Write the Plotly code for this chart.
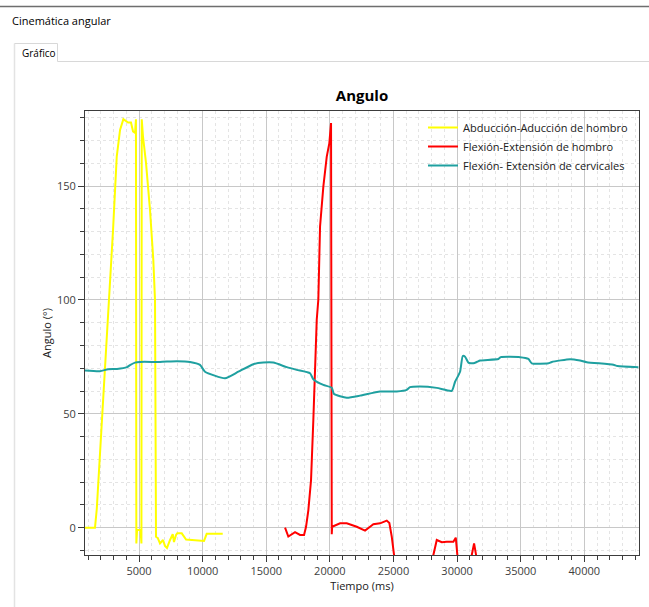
import plotly.graph_objects as go

# ---------------- data ----------------
t_abd = [755, 1540, 1680, 1930, 2330, 2650, 2960, 3250, 3510, 3770, 3900, 4140, 4370,
         4530, 4690, 4760, 4790, 4850, 5120, 5190, 5215, 5314, 5550, 5865, 6124, 6258,
         6336, 6470, 6650, 6890, 7040, 7200, 7440, 7650, 7750, 7910, 8010, 8360, 8700,
         9400, 9540, 9800, 10110, 10320, 11580]
abd = [0, 0, 8.2, 31.2, 70.7, 100.2, 130.8, 163, 174.7, 179.4, 178.9, 177.9, 177.9,
       174, 173.4, 179.4, -6.9, -1, -1, -6.9, 179.4, 171.8, 160.2, 139.6, 117.6, 100,
       -4, -4.5, -6.9, -5.4, -8.0, -8.9, -5.4, -2.8, -6.3, -3.2, -2.5, -2.5, -5.2,
       -5.4, -5.4, -5.8, -5.8, -2.7, -2.7]

t_flex = [16478, 16737, 17264, 17657, 17972, 18129, 18310, 18522, 18703, 18970, 19096,
          19230, 19489, 19757, 19961, 20094, 20150, 20180, 20802, 21329, 22115, 22767,
          23160, 23420, 23947, 24473, 24678, 24866, 25047, 25250, 27900, 28137, 28404,
          28797, 29190, 29709, 29898, 30024, 30200, 30950, 31156, 31337, 31494, 31650]
flex = [0, -3.9, -2, -3.2, -3.2, 0.4, 7.6, 20.9, 47.3, 91.3, 100.2,
        132.3, 149.8, 163, 168.9, 177.7, -2.9, 0.4, 1.9, 1.9, 0.4, -1.3,
        0.4, 1.5, 1.9, 3.1, 2, -3.9, -12, -30, -30, -12, -5.4,
        -6.4, -6.2, -6.2, -4.4, -12, -30, -30, -12, -6.9, -12, -30]

t_cerv = [755, 1934, 2563, 3270, 4057, 4292, 4686, 5079, 6651, 7987, 9009, 9796, 10189,
          11761, 12807, 13986, 14772, 15558, 16612, 17398, 18443, 18703, 19489, 20150,
          20330, 21329, 22374, 23947, 25259, 26046, 26305, 27091, 28404, 29583, 29843,
          30236, 30448, 30629, 30888, 31282, 31596, 31808, 33247, 33436, 34953, 35607,
          35874, 37179, 37446, 38884, 39670, 40197, 42288, 42603, 44254]
cerv = [69.0, 68.7, 69.6, 69.7, 70.5, 71.4, 72.5, 72.8, 72.8, 73.1, 72.8, 71.5, 68.5,
        65.6, 68.5, 71.8, 72.5, 72.5, 70.5, 69.3, 67.8, 65.2, 62.7, 61.5,
        58.7, 57.1, 58.0, 59.8, 59.8, 60.5, 61.7, 62.0, 61.4, 60.1, 64.1,
        68.5, 75.4, 75.1, 72.5, 72.2, 72.9, 73.4, 74.1, 74.9, 74.9, 74.1,
        72.2, 72.2, 72.8, 74.0, 73.4, 72.7, 71.6, 71.0, 70.5]

names = ["Abducción-Aducción de hombro", "Flexión-Extensión de hombro",
         "Flexión- Extensión de cervicales"]
colors = ["#FFFF00", "#FF0000", "#1FA0A0"]

x_range = [755, 44300]
y_range = [-12, 183]

# ---------------- figure ----------------
W, H = 649, 607
L, R, T, B = 85, 10, 111, 52
pw, ph = W - L - R, H - T - B


def px(x):
    return (x - L) / pw


def py(y):
    return (H - B - y) / ph


fig = go.Figure()
fig.add_trace(go.Scatter(x=t_abd, y=abd, mode="lines", name=names[0],
                         line=dict(color=colors[0], width=2)))
fig.add_trace(go.Scatter(x=t_flex, y=flex, mode="lines", name=names[1],
                         line=dict(color=colors[1], width=2)))
fig.add_trace(go.Scatter(x=t_cerv, y=cerv, mode="lines", name=names[2],
                         line=dict(color=colors[2], width=2, shape="spline", smoothing=0.5)))

font_family = "Open Sans, Noto Sans, sans-serif"

axis_common = dict(
    showline=True, linecolor="#3c3c3c", linewidth=1, mirror=True,
    ticks="outside", ticklen=6, tickcolor="#3c3c3c",
    showgrid=True, gridcolor="#c8c8c8", gridwidth=1,
    zeroline=False, tickformat="d",
    tickfont=dict(family=font_family, size=11, color="#404040"),
)

fig.update_xaxes(
    range=x_range, tick0=0, dtick=5000,
    minor=dict(dtick=1000, ticks="outside", ticklen=4, tickcolor="#3c3c3c",
               showgrid=True, gridcolor="#e4e4e4", griddash="dot"),
    title=dict(text="Tiempo (ms)", standoff=4,
               font=dict(family=font_family, size=11, color="#202020")),
    **axis_common,
)
fig.update_yaxes(
    range=y_range, tick0=0, dtick=50,
    minor=dict(dtick=10, ticks="outside", ticklen=4, tickcolor="#3c3c3c",
               showgrid=True, gridcolor="#e4e4e4", griddash="dot"),
    title=dict(text="Angulo (°)", standoff=3,
               font=dict(family=font_family, size=11, color="#202020")),
    **axis_common,
)

# window / tab decorations
line_grey = "#d8d8d8"
shapes = [
    dict(type="line", xref="paper", yref="paper", x0=px(0), x1=px(W), y0=py(6.5), y1=py(6.5),
         line=dict(color="#6e6e6e", width=1.5)),
    dict(type="line", xref="paper", yref="paper", x0=px(14.5), x1=px(14.5), y0=py(43.5), y1=py(H),
         line=dict(color="#e3e3e3", width=1.5)),
    dict(type="line", xref="paper", yref="paper", x0=px(14.5), x1=px(57.5), y0=py(43.5), y1=py(43.5),
         line=dict(color=line_grey, width=1)),
    dict(type="line", xref="paper", yref="paper", x0=px(57.5), x1=px(57.5), y0=py(43.5), y1=py(61.5),
         line=dict(color=line_grey, width=1)),
    dict(type="line", xref="paper", yref="paper", x0=px(57.5), x1=px(W), y0=py(61.5), y1=py(61.5),
         line=dict(color=line_grey, width=1)),
]

annotations = [
    dict(text="Cinemática angular", xref="paper", yref="paper", x=px(10), y=py(20),
         xanchor="left", yanchor="middle", showarrow=False,
         font=dict(family=font_family, size=11, color="#000000")),
    dict(text="Gráfico", xref="paper", yref="paper", x=px(19.5), y=py(53),
         xanchor="left", yanchor="middle", showarrow=False,
         font=dict(family=font_family, size=10, color="#000000")),
]

fig.update_layout(
    width=W, height=H,
    margin=dict(l=L, r=R, t=T, b=B),
    paper_bgcolor="#ffffff", plot_bgcolor="#ffffff",
    title=dict(text="<b>Angulo</b>", x=0.5, xref="paper", y=1 - 96 / H, yref="container",
               xanchor="center", yanchor="middle",
               font=dict(family=font_family, size=15, color="#000000")),
    legend=dict(x=px(423), y=py(113), xanchor="left", yanchor="top",
                bgcolor="rgba(0,0,0,0)", borderwidth=0,
                font=dict(family=font_family, size=11, color="#202020"),
                itemwidth=30),
    shapes=shapes,
    annotations=annotations,
)

fig.write_html(
    "out.html",
    config={"displayModeBar": False},
    post_script="document.body.style.margin='0px';document.body.style.overflow='hidden';",
)
